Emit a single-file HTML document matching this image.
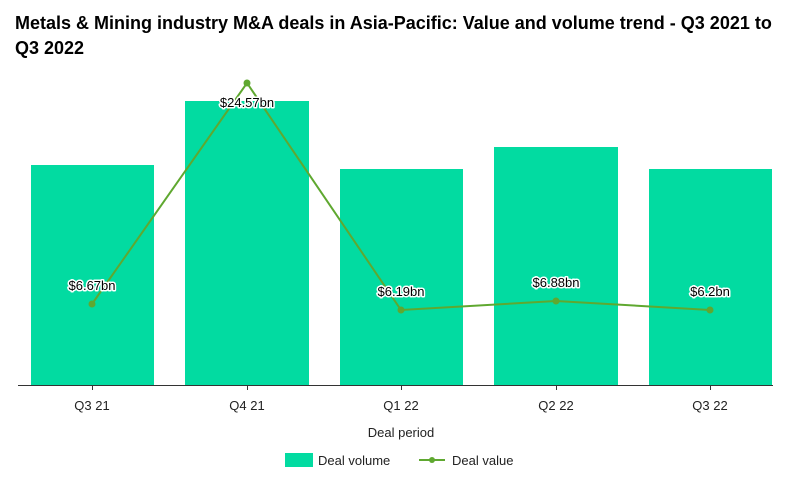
<!DOCTYPE html>
<html><head><style>body{margin:0;background:#fff}svg{display:block}</style></head><body>
<svg width="798" height="482" xmlns="http://www.w3.org/2000/svg" font-family="Liberation Sans, Arial, sans-serif">
<text x="15" y="29" font-size="18" font-weight="bold" fill="#000">Metals &amp; Mining industry M&amp;A deals in Asia-Pacific: Value and volume trend - Q3 2021 to</text>
<text x="15" y="54" font-size="18" font-weight="bold" fill="#000">Q3 2022</text>
<g fill="#02DBA1">
<rect x="31" y="165" width="123" height="220"/>
<rect x="185" y="101" width="124" height="284"/>
<rect x="340" y="169" width="123" height="216"/>
<rect x="494" y="147" width="124" height="238"/>
<rect x="649" y="169" width="123" height="216"/>
</g>
<line x1="18" y1="385.5" x2="773" y2="385.5" stroke="#333" stroke-width="1"/>
<g stroke="#333"><line x1="92.5" y1="385" x2="92.5" y2="390"/><line x1="247.5" y1="385" x2="247.5" y2="390"/><line x1="401.5" y1="385" x2="401.5" y2="390"/><line x1="556.5" y1="385" x2="556.5" y2="390"/><line x1="710.5" y1="385" x2="710.5" y2="390"/></g>
<polyline points="92,304 247,83 401,310 556,301 710,310" fill="none" stroke="#5FA830" stroke-width="2"/>
<g fill="#5FA830"><circle cx="92" cy="304" r="3.5"/><circle cx="247" cy="83" r="3.5"/><circle cx="401" cy="310" r="3.5"/><circle cx="556" cy="301" r="3.5"/><circle cx="710" cy="310" r="3.5"/></g>
<g font-size="13" text-anchor="middle" fill="#000" stroke="#fff" stroke-width="3" paint-order="stroke" stroke-linejoin="round">
<text x="92" y="290">$6.67bn</text>
<text x="247" y="107">$24.57bn</text>
<text x="401" y="296">$6.19bn</text>
<text x="556" y="287">$6.88bn</text>
<text x="710" y="296">$6.2bn</text>
</g>
<g font-size="13" text-anchor="middle" fill="#222">
<text x="92" y="410">Q3 21</text><text x="247" y="410">Q4 21</text><text x="401" y="410">Q1 22</text><text x="556" y="410">Q2 22</text><text x="710" y="410">Q3 22</text>
<text x="401" y="437">Deal period</text>
</g>
<rect x="285" y="453" width="28" height="14" fill="#02DBA1"/>
<text x="318" y="465" font-size="13" fill="#222">Deal volume</text>
<line x1="419" y1="460" x2="445" y2="460" stroke="#5FA830" stroke-width="2"/>
<circle cx="432" cy="460" r="3" fill="#5FA830"/>
<text x="452" y="465" font-size="13" fill="#222">Deal value</text>
</svg>
</body></html>
